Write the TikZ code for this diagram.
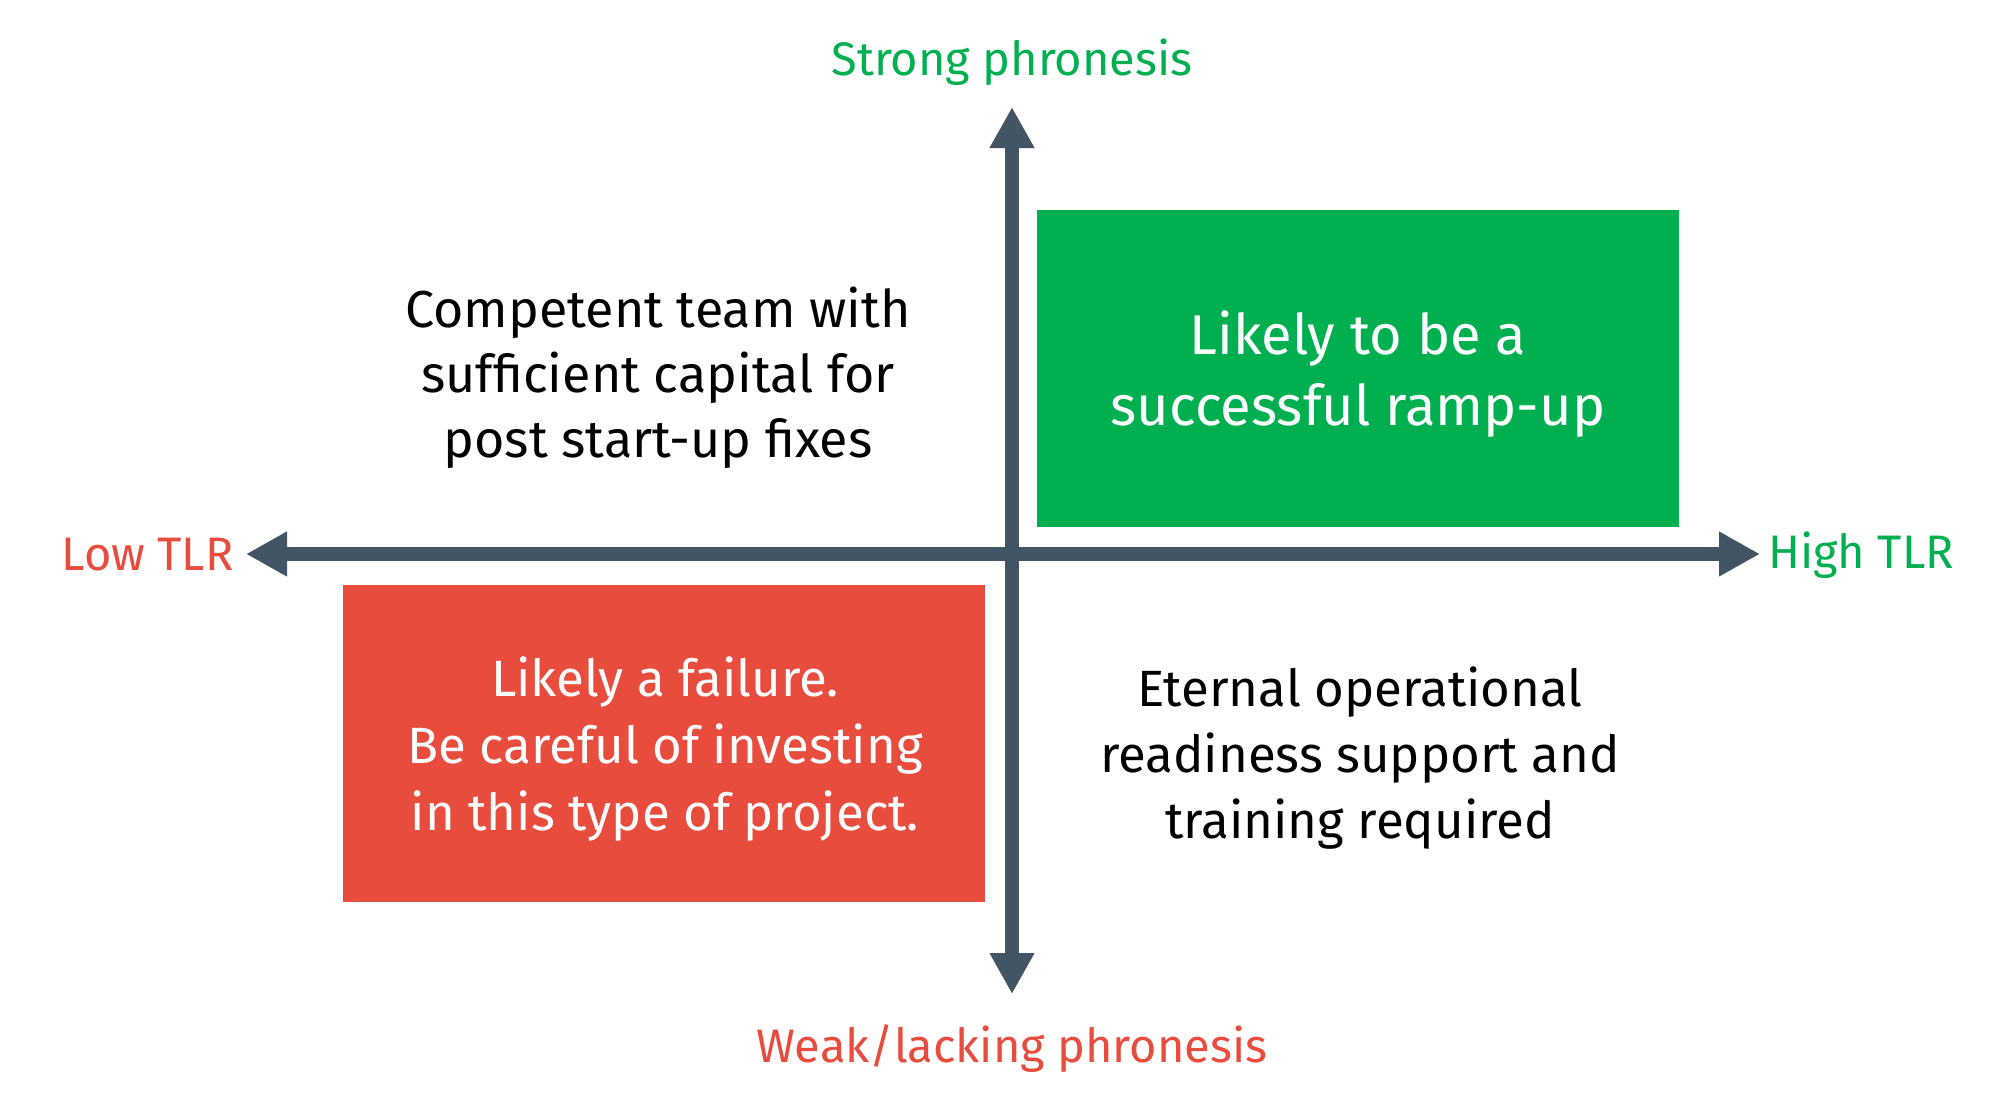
\documentclass[tikz,border=0pt]{standalone}
\usepackage{fontspec}
\setmainfont{Fira Sans}
\usetikzlibrary{arrows.meta}
\definecolor{axisgray}{HTML}{435564}
\definecolor{tlrgreen}{HTML}{00AF50}
\definecolor{tlrred}{HTML}{E84C3D}
\begin{document}
\begin{tikzpicture}[x=1pt,y=-1pt,
	every node/.style={font=\fontsize{52}{65}\selectfont, align=center, inner sep=0pt},
	quadbox/.style={minimum width=642pt, minimum height=317pt},
	axisline/.style={line width=14pt, color=axisgray, {Triangle[length=41pt,width=42pt]}-{Triangle[length=41pt,width=42pt]}},
	axislabel/.style={font=\fontsize{47}{56}\selectfont}]
	\useasboundingbox (0,0) rectangle (2008,1106);
	% quadrants
	\node[quadbox, fill=tlrgreen] (ramp) at (1358,368) {};
	\node[quadbox, fill=tlrred] (fail) at (664,743) {};
	\node[text=white, font=\fontsize{56}{71}\selectfont] (ramptext) at (1358,374) {Likely to be a\\successful ramp-up};
	\node[text=white, font=\fontsize{51}{67}\selectfont] (failtext) at (665,749) {Likely a failure.\\Be careful of investing\\in this type of project.};
	\node (capital) at (658,378) {Competent team with\\sufficient capital for\\post start-up fixes};
	\node[font=\fontsize{51}{66}\selectfont] (support) at (1360,758) {Eternal operational\\readiness support and\\training required};
	% axes
	\coordinate (top) at (1012,107);
	\coordinate (bottom) at (1012,994);
	\coordinate (left) at (246,554);
	\coordinate (right) at (1760,554);
	\draw[axisline] (left) -- (right);
	\draw[axisline] (bottom) -- (top);
	\node[axislabel, text=tlrgreen] (strong) at (1012,62) {Strong phronesis};
	\node[axislabel, text=tlrred] (weak) at (1012,1049) {Weak/lacking phronesis};
	\node[axislabel, text=tlrred, anchor=east] (low) at (234,555) {Low TLR};
	\node[axislabel, text=tlrgreen, anchor=west] (high) at (1768,555) {High TLR};
\end{tikzpicture}
\end{document}
